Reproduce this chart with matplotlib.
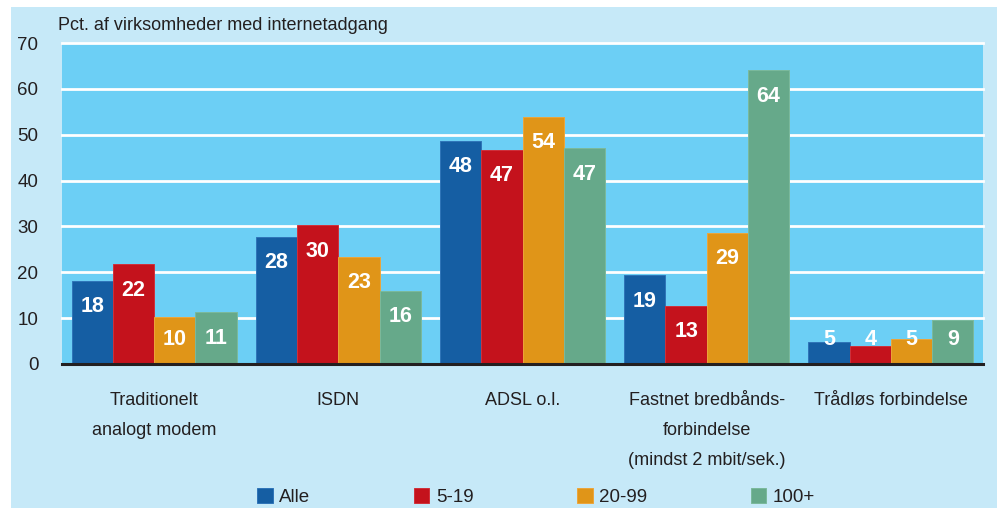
import numpy as np
import matplotlib
matplotlib.use("Agg")
from matplotlib import pyplot as plt
from matplotlib.patches import Rectangle, Patch

# data
categories = ["Traditionelt\nanalogt modem", "ISDN", "ADSL o.l.",
              "Fastnet bredbånds-\nforbindelse\n(mindst 2 mbit/sek.)", "Trådløs forbindelse"]
series = ["Alle", "5-19", "20-99", "100+"]
alle = [18.2, 27.8, 48.7, 19.4, 4.7]
s5_19 = [21.7, 30.3, 46.7, 12.7, 3.95]
s20_99 = [10.15, 23.4, 53.9, 28.6, 5.5]
s100 = [11.25, 16.0, 47.1, 64.1, 9.56]
labels_alle = [18, 28, 48, 19, 5]
labels_5_19 = [22, 30, 47, 13, 4]
labels_20_99 = [10, 23, 54, 29, 5]
labels_100 = [11, 16, 47, 64, 9]
yticks = [0, 10, 20, 30, 40, 50, 60, 70]

colors = ["#155ea3", "#c4121c", "#e09518", "#66a98a"]
edges = ["#2f74b8", "#d0303a", "#eca53a", "#7bb99b"]
txt = "#231f20"

plt.rcParams['font.family'] = ['Liberation Sans', 'DejaVu Sans']

fig = plt.figure(figsize=(9.97, 5.08), dpi=100)
fig.patch.set_facecolor("white")
fig.patches.append(Rectangle((11 / 997, 0), 1, 501 / 508, transform=fig.transFigure,
                             facecolor="#c6e9f8", edgecolor="none", zorder=-10))

ax = fig.add_axes([62 / 997, (508 - 364) / 508, 921 / 997, 321 / 508])
ax.set_facecolor("#6ccff5")

x = np.arange(len(categories))
w = 0.2237
data = [alle, s5_19, s20_99, s100]
labs = [labels_alle, labels_5_19, labels_20_99, labels_100]
for i, (vals, lv) in enumerate(zip(data, labs)):
    pos = x + (i - 1.5) * w
    ax.bar(pos, vals, width=w, color=colors[i], edgecolor=edges[i], linewidth=0.7, zorder=3)
    for p, v, l in zip(pos, vals, lv):
        yl = max(v - 5.7, 5.45)
        ax.text(p, yl, str(l), ha="center", va="center", color="white",
                fontsize=15.5, fontweight="bold", zorder=4)

ax.set_xlim(-0.5, len(categories) - 0.5)
ax.set_ylim(0, 70)
ax.set_yticks(yticks)
ax.set_xticks(x)
ax.set_xticklabels(categories, linespacing=2.0, va="top")
ax.tick_params(axis="y", length=0, pad=17, labelsize=13.5, labelcolor=txt)
ax.tick_params(axis="x", length=0, pad=20, labelsize=13, labelcolor=txt)
for s in ["top", "left", "right"]:
    ax.spines[s].set_visible(False)
ax.spines["bottom"].set_color(txt)
ax.spines["bottom"].set_linewidth(2.2)
ax.spines["bottom"].set_zorder(5)
ax.yaxis.grid(True, color="white", linewidth=2, zorder=1)
ax.set_axisbelow(True)
for gl in ax.yaxis.get_gridlines():
    gl.set_clip_on(False)

fig.text(58 / 997, 1 - 25 / 508, "Pct. af virksomheder med internetadgang",
         ha="left", va="center", fontsize=13, color=txt)

handles = [Patch(facecolor=c, edgecolor=e, linewidth=0.7) for c, e in zip(colors, edges)]
fig.legend(handles, series, loc="center", bbox_to_anchor=(536 / 997, 1 - 497 / 508), ncol=4,
           frameon=False, fontsize=13.5, handlelength=0.85, handleheight=0.85,
           handletextpad=0.35, columnspacing=5.5, labelcolor=txt)

fig.savefig("out.png", dpi=100, facecolor=fig.get_facecolor())
